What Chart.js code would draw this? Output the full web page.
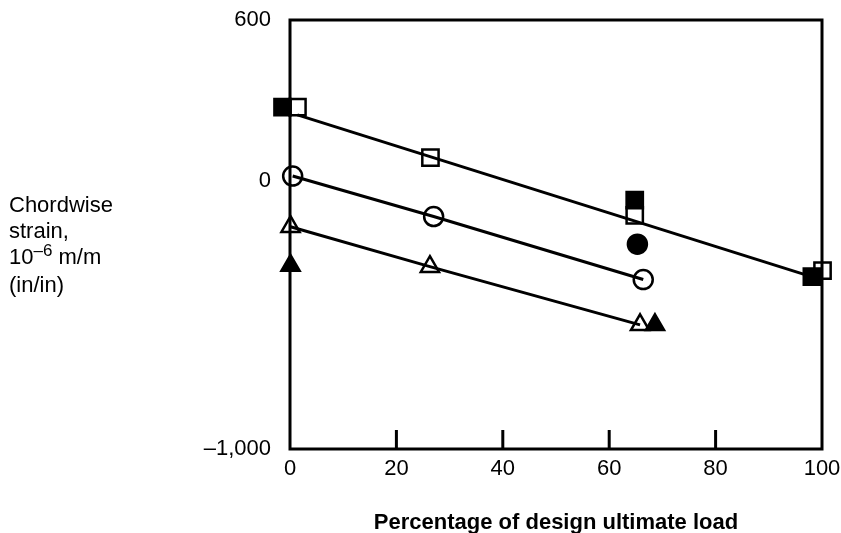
<!DOCTYPE html>
<html>
<head>
<meta charset="utf-8">
<script src="https://cdn.jsdelivr.net/npm/chart.js@4/dist/chart.umd.min.js"></script>
<style>
  html, body { margin: 0; padding: 0; background: #fff; }
  #wrap { position: relative; width: 841px; height: 533px; }
  #ytitle { position: absolute; left: 9px; top: 192px; font: 22px 'Liberation Sans', Arial, sans-serif; line-height: 26px; color: #000; }
  #ytitle sup { font-size: 17px; position: relative; top: -8px; vertical-align: baseline; }
</style>
</head>
<body>
<div id="wrap">
  <canvas id="c" width="841" height="533"></canvas>
  <div id="ytitle">Chordwise<br>strain,<br>10<sup>–6</sup> m/m<br>(in/in)</div>
</div>
<script>
/* chordwise strain vs percentage of design ultimate load */
var X_TICKS = [0, 20, 40, 60, 80, 100];
var Y_TICKS = [-1000, 0, 600];
var Y_TICK_LABELS = ['–1,000', '0', '600'];

var sqOpenX = [1.4, 26.4, 64.8, 100.1];
var sqOpenY = [275, 87, -129, -335];
var sqFillX = [-1.4, 64.8, 98.1];
var sqFillY = [275, -72, -357];
var sqFitX = [1.4, 98];
var sqFitY = [246, -357];

var ciOpenX = [0.5, 27.0, 66.4];
var ciOpenY = [18, -133, -368];
var ciFillX = [65.3];
var ciFillY = [-236];

var trOpenX = [0.1, 26.3, 65.8];
var trOpenY = [-171, -320, -537];
var trFillX = [0.1, 68.6];
var trFillY = [-316, -537];

var FONT = "'Liberation Sans', Arial, sans-serif";

function pts(xs, ys) {
  return xs.map(function (x, i) { return { x: x, y: ys[i] }; });
}

function markers(xs, ys, style, filled, r) {
  return {
    data: pts(xs, ys), showLine: false, pointStyle: style, pointRadius: r, pointHoverRadius: r,
    pointBorderWidth: 2.5, pointBorderColor: '#000',
    pointBackgroundColor: filled ? '#000' : 'rgba(0,0,0,0)', clip: false
  };
}

function fitLine(xs, ys) {
  return { data: pts(xs, ys), showLine: true, pointRadius: 0, borderColor: '#000', borderWidth: 3, clip: false };
}

/* frame round the plot and inward ticks on the x axis */
var framePlugin = {
  id: 'frame',
  afterDatasetsDraw: function (chart) {
    var a = chart.chartArea, ctx = chart.ctx, xs = chart.scales.x;
    ctx.save();
    ctx.strokeStyle = '#000';
    ctx.lineWidth = 3;
    ctx.strokeRect(a.left, a.top, a.right - a.left, a.bottom - a.top);
    X_TICKS.forEach(function (v) {
      if (v === X_TICKS[0] || v === X_TICKS[X_TICKS.length - 1]) { return; }
      var px = xs.getPixelForValue(v);
      ctx.beginPath();
      ctx.moveTo(px, a.bottom);
      ctx.lineTo(px, a.bottom - 19);
      ctx.stroke();
    });
    ctx.restore();
  }
};

var openTri = markers(trOpenX, trOpenY, 'triangle', false, 10.5);
openTri.showLine = true;
openTri.borderColor = '#000';
openTri.borderWidth = 3;
var openCirc = markers(ciOpenX, ciOpenY, 'circle', false, 9.5);
openCirc.showLine = true;
openCirc.borderColor = '#000';
openCirc.borderWidth = 3;

new Chart(document.getElementById('c'), {
  type: 'scatter',
  data: {
    datasets: [
      fitLine(sqFitX, sqFitY),
      openCirc,
      openTri,
      markers(sqFillX, sqFillY, 'rect', true, 11.5),
      markers(sqOpenX, sqOpenY, 'rect', false, 11.5),
      markers(ciFillX, ciFillY, 'circle', true, 9.5),
      markers(trFillX, trFillY, 'triangle', true, 10.5)
    ]
  },
  options: {
    responsive: false,
    animation: false,
    events: [],
    layout: { padding: { left: 0, right: 19, top: 20, bottom: 0 } },
    plugins: { legend: { display: false }, tooltip: { enabled: false } },
    scales: {
      x: {
        type: 'linear', min: 0, max: 100,
        afterFit: function (s) { s.height = 84; },
        afterBuildTicks: function (s) { s.ticks = X_TICKS.map(function (v) { return { value: v }; }); },
        grid: { display: false, drawTicks: true, tickLength: 7 },
        border: { display: false },
        ticks: { color: '#000', padding: 0, font: { family: FONT, size: 22 } },
        title: {
          display: true, text: 'Percentage of design ultimate load', color: '#000',
          padding: { top: 0, bottom: 0 }, font: { family: FONT, size: 22, weight: 'bold', lineHeight: 0.9 }
        }
      },
      y: {
        type: 'linear', min: -1000, max: 600,
        afterFit: function (s) { s.width = 290; },
        afterBuildTicks: function (s) { s.ticks = Y_TICKS.map(function (v) { return { value: v }; }); },
        grid: { display: false, drawTicks: true, tickLength: 19 },
        border: { display: false },
        ticks: {
          color: '#000', padding: 0, font: { family: FONT, size: 22 },
          callback: function (v) { return Y_TICK_LABELS[Y_TICKS.indexOf(v)]; }
        }
      }
    }
  },
  plugins: [framePlugin]
});
</script>
</body>
</html>
